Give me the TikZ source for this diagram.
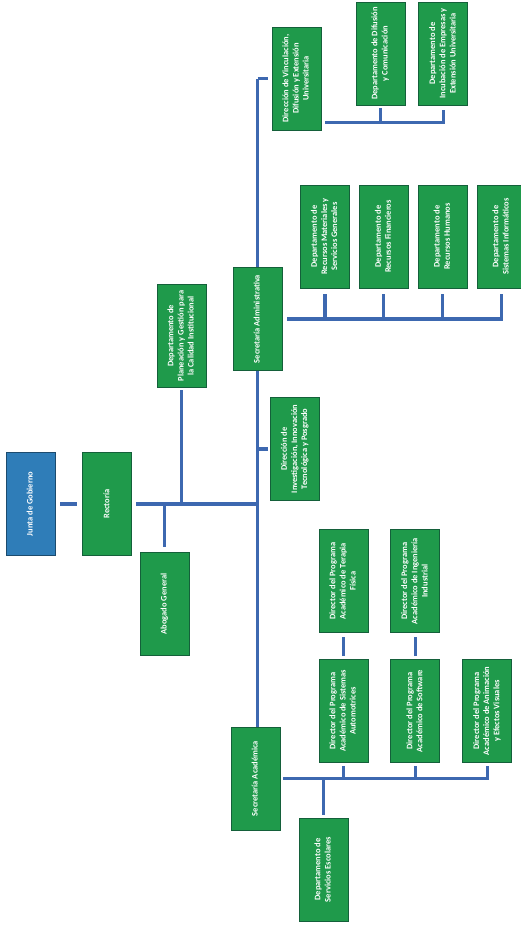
\documentclass[tikz,border=0pt]{standalone}
\usepackage{fontspec}
\setmainfont{Carlito}
\usepackage{graphicx}
\usetikzlibrary{positioning,calc}
\definecolor{orggreen}{HTML}{1F9A4B}
\definecolor{orgedge}{HTML}{14603A}
\definecolor{orgblue}{HTML}{2F7DB8}
\definecolor{linkblue}{HTML}{3D68B0}
\newcommand{\vtext}[1]{\rotatebox{90}{\begin{tabular}{@{}c@{}}#1\end{tabular}}}

\begin{document}
\begin{tikzpicture}[
  x=0.05cm, y=-0.05cm,
  unit/.style={
    rectangle, draw=orgedge, line width=1.2pt, fill=orggreen,
    minimum width=2.45cm, minimum height=5.15cm, inner sep=1pt,
    text=white, font=\fontsize{12}{14.5}\selectfont\bfseries
  },
  board/.style={unit, fill=orgblue, draw=orgblue!60!black},
  link/.style={draw=linkblue, line width=4.5pt},
]
  \useasboundingbox (0,0) rectangle (521,928);

  % Top of the chart
  \node[board] (junta) at (30.5,504) {\vtext{Junta de Gobierno}};
  \node[unit, right=1.35cm of junta] (rect) {\vtext{Rectoría}};
  \node[unit] (abog) at (164.5,604) {\vtext{Abogado General}};
  \node[unit] (plan) at (181.5,336) {\vtext{Departamento de\\Planeación y Gestión para\\la Calidad Institucional}};

  % Administrative branch
  \node[unit] (secadm) at (257.5,319) {\vtext{Secretaría Administrativa}};
  \node[unit] (subinv) at (295,449) {\vtext{Dirección de\\Investigación, Innovación\\Tecnológica y Posgrado}};
  \node[unit] (drm) at (325,236.5) {\vtext{Departamento de\\Recursos Materiales y\\Servicios Generales}};
  \node[unit, right=0.45cm of drm] (drf) {\vtext{Departamento de\\Recursos Financieros}};
  \node[unit, right=0.45cm of drf] (drh) {\vtext{Departamento de\\Recursos Humanos}};
  \node[unit, right=0.45cm of drh] (dsi) {\vtext{Departamento de\\Sistemas Informáticos}};

  % Vinculacion
  \node[unit] (dvinc) at (296.5,78.5) {\vtext{Dirección de Vinculación,\\Difusión y Extensión\\Universitaria}};
  \node[unit] (ddif) at (380.5,53.5) {\vtext{Departamento de Difusión\\y Comunicación}};
  \node[unit, right=0.65cm of ddif] (dvext) {\vtext{Departamento de\\Incubación de Empresas y\\Extensión Universitaria}};

  % Academic branch
  \node[unit] (secacad) at (255.5,778.5) {\vtext{Secretaría Académica}};
  \node[unit] (dse) at (323.5,869.5) {\vtext{Departamento de\\Servicios Escolares}};
  \node[unit] (psa) at (343.5,711) {\vtext{Director del Programa\\Académico de Sistemas\\Automotrices}};
  \node[unit, right=1.1cm of psa] (psw) {\vtext{Director del Programa\\Académico de Software}};
  \node[unit, right=1.1cm of psw] (pav) {\vtext{Director del Programa\\Académico de Animación\\y Efectos Visuales}};
  \node[unit, above=1.3cm of psa] (ptf) {\vtext{Director del Programa\\Académico de Terapia\\Física}};
  \node[unit, above=1.3cm of psw] (pii) {\vtext{Director del Programa\\Académico de Ingeniería\\Industrial}};

  % Connectors
  \coordinate (hub) at (secadm.south |- rect.east);
  \coordinate (ttop) at (secadm.north |- dvinc.west);
  \coordinate (vbus) at ($(dvinc.south east)+(0,-8)$);

  \draw[link, shorten <=0.25cm, shorten >=0.25cm] (junta) -- (rect);
  \draw[link, shorten <=0.2cm] (rect) -- (hub);
  \draw[link, shorten >=0.25cm] (abog.north |- hub) -- (abog.north);
  \draw[link, shorten >=0.1cm] (plan.south |- hub) -- (plan.south);
  \draw[link] (ttop) -- (secadm.north);
  \draw[link] (secadm.south) -- (secadm.south |- secacad.north);
  \draw[link, shorten >=0.2cm] (ttop) -- (dvinc.west);
  \draw[link, shorten >=0.1cm] (secadm.south |- subinv.west) -- (subinv.west);

  \draw[link, shorten <=0.25cm, shorten >=0.3cm] (secadm.east) -| (dsi.south);
  \foreach \d in {drm,drf,drh}
    \draw[link, shorten >=0.3cm] (\d.south |- secadm.east) -- (\d.south);

  \draw[link, shorten <=0.2cm, shorten >=0.25cm] (vbus) -| (dvext.south);
  \draw[link, shorten >=0.15cm] (ddif.south |- vbus) -- (ddif.south);

  \draw[link, shorten <=0.15cm, shorten >=0.15cm] (secacad.east) -| (pav.south);
  \foreach \p in {psa,psw}
    \draw[link, shorten >=0.15cm] (\p.south |- secacad.east) -- (\p.south);
  \draw[link, shorten >=0.15cm] (dse.north |- secacad.east) -- (dse.north);
  \draw[link, shorten <=0.15cm, shorten >=0.2cm] (psa) -- (ptf);
  \draw[link, shorten <=0.15cm, shorten >=0.2cm] (psw) -- (pii);
\end{tikzpicture}
\end{document}
